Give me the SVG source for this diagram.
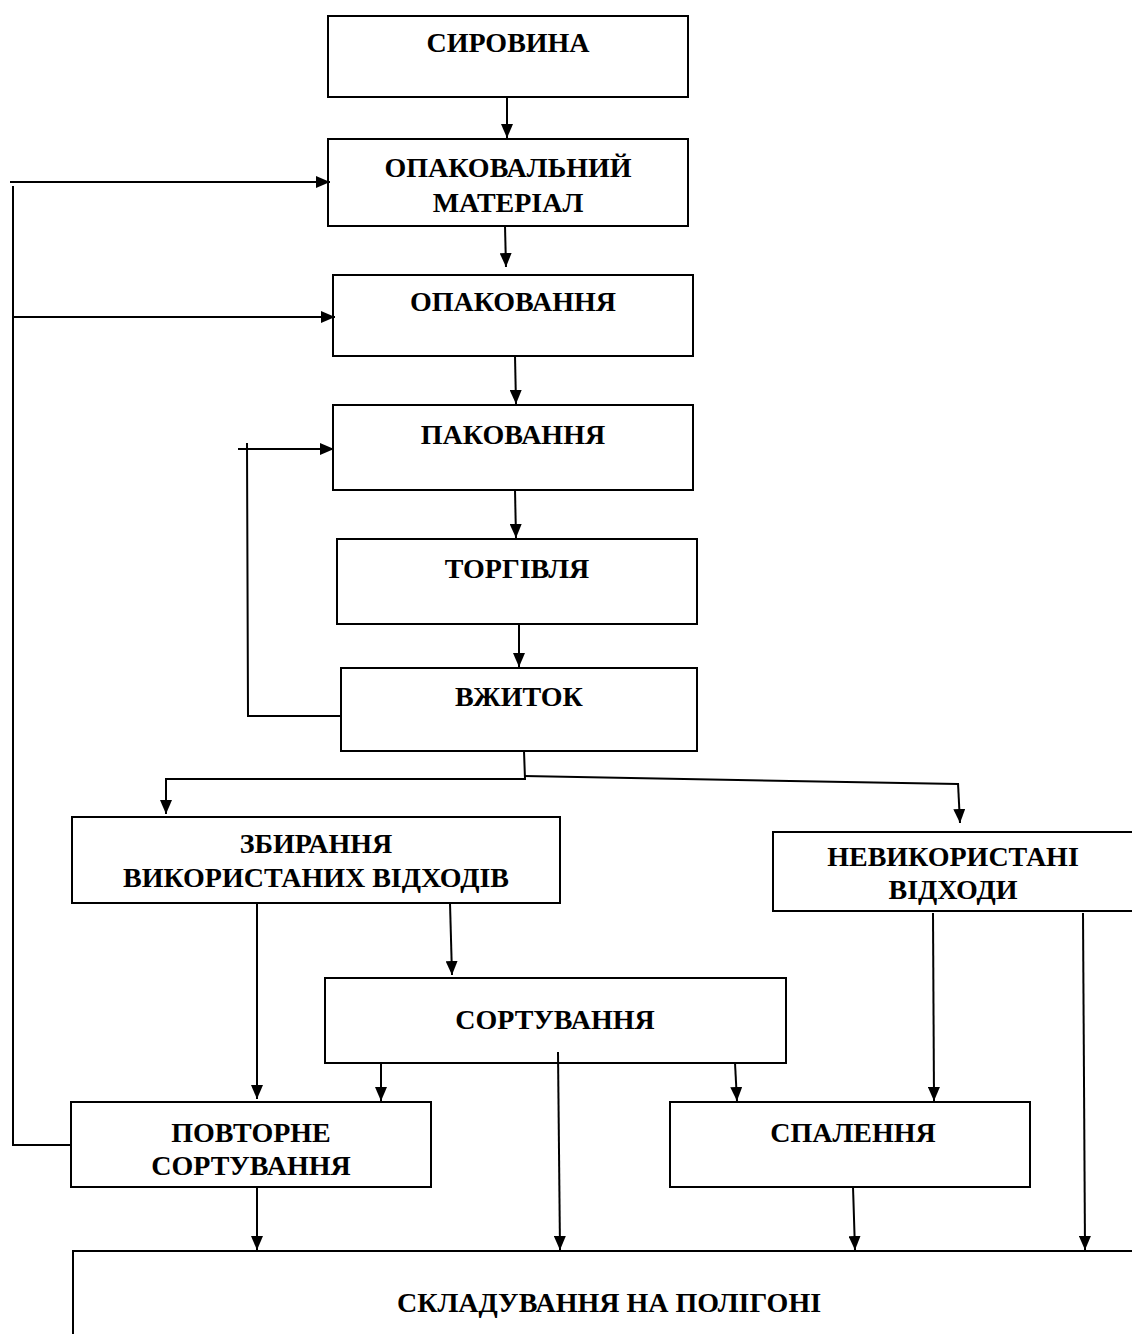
<svg xmlns="http://www.w3.org/2000/svg" width="1132" height="1334" viewBox="0 0 1132 1334">
<style>
.box{fill:#fff;stroke:#000;stroke-width:2}
.t{font-family:"Liberation Serif","Times New Roman",serif;font-weight:bold;font-size:28px;fill:#000;text-anchor:middle}
.c{fill:none;stroke:#000;stroke-width:2}
</style>
<defs>
<marker id="ah" viewBox="0 0 14 12" refX="14" refY="6" markerWidth="14" markerHeight="12" markerUnits="userSpaceOnUse" orient="auto">
<path d="M0,0 L14,6 L0,12 Z" fill="#000"/>
</marker>
</defs>
<rect width="1132" height="1334" fill="#fff"/>
<g id="n1"><rect class="box" x="328" y="16" width="360" height="81"/><text class="t" x="508" y="52">СИРОВИНА</text></g>
<g id="n2"><rect class="box" x="328" y="139" width="360" height="87"/><text class="t" x="508" y="177">ОПАКОВАЛЬНИЙ</text><text class="t" x="508" y="212">МАТЕРІАЛ</text></g>
<g id="n3"><rect class="box" x="333" y="275" width="360" height="81"/><text class="t" x="513" y="311">ОПАКОВАННЯ</text></g>
<g id="n4"><rect class="box" x="333" y="405" width="360" height="85"/><text class="t" x="513" y="444">ПАКОВАННЯ</text></g>
<g id="n5"><rect class="box" x="337" y="539" width="360" height="85"/><text class="t" x="517" y="578">ТОРГІВЛЯ</text></g>
<g id="n6"><rect class="box" x="341" y="668" width="356" height="83"/><text class="t" x="519" y="706">ВЖИТОК</text></g>
<g id="n7"><rect class="box" x="72" y="817" width="488" height="86"/><text class="t" x="316" y="853">ЗБИРАННЯ</text><text class="t" x="316" y="887">ВИКОРИСТАНИХ ВІДХОДІВ</text></g>
<g id="n8"><rect class="box" x="773" y="832" width="362" height="79"/><text class="t" x="953" y="866">НЕВИКОРИСТАНІ</text><text class="t" x="953" y="899">ВІДХОДИ</text></g>
<g id="n9"><rect class="box" x="325" y="978" width="461" height="85"/><text class="t" x="555" y="1029">СОРТУВАННЯ</text></g>
<g id="n10"><rect class="box" x="71" y="1102" width="360" height="85"/><text class="t" x="251" y="1142">ПОВТОРНЕ</text><text class="t" x="251" y="1175">СОРТУВАННЯ</text></g>
<g id="n11"><rect class="box" x="670" y="1102" width="360" height="85"/><text class="t" x="853" y="1142">СПАЛЕННЯ</text></g>
<g id="n12"><rect class="box" x="73" y="1251" width="1080" height="120"/><text class="t" x="609" y="1312">СКЛАДУВАННЯ НА ПОЛІГОНІ</text></g>
<g id="connectors">
<line class="c" x1="507" y1="97" x2="507" y2="138" marker-end="url(#ah)"/>
<line class="c" x1="505" y1="226" x2="506" y2="267" marker-end="url(#ah)"/>
<line class="c" x1="515" y1="356" x2="516" y2="404" marker-end="url(#ah)"/>
<line class="c" x1="515" y1="490" x2="516" y2="538" marker-end="url(#ah)"/>
<line class="c" x1="519" y1="624" x2="519" y2="667" marker-end="url(#ah)"/>
<line class="c" x1="10" y1="182" x2="330" y2="182" marker-end="url(#ah)"/>
<polyline class="c" points="13,186 13,1145 71,1145"/>
<line class="c" x1="13" y1="317" x2="335" y2="317" marker-end="url(#ah)"/>
<line class="c" x1="238" y1="449" x2="334" y2="449" marker-end="url(#ah)"/>
<polyline class="c" points="247,443 248,716 341,716"/>
<polyline class="c" points="524,751 525,779 166,779"/>
<line class="c" x1="166" y1="778" x2="166" y2="814" marker-end="url(#ah)"/>
<polyline class="c" points="524,776 958,784"/>
<line class="c" x1="958" y1="783" x2="960" y2="823" marker-end="url(#ah)"/>
<line class="c" x1="257" y1="903" x2="257" y2="1099" marker-end="url(#ah)"/>
<line class="c" x1="450" y1="903" x2="452" y2="975" marker-end="url(#ah)"/>
<line class="c" x1="381" y1="1063" x2="381" y2="1101" marker-end="url(#ah)"/>
<line class="c" x1="558" y1="1052" x2="560" y2="1250" marker-end="url(#ah)"/>
<line class="c" x1="735" y1="1063" x2="737" y2="1101" marker-end="url(#ah)"/>
<line class="c" x1="933" y1="913" x2="934" y2="1101" marker-end="url(#ah)"/>
<line class="c" x1="1083" y1="913" x2="1085" y2="1250" marker-end="url(#ah)"/>
<line class="c" x1="257" y1="1187" x2="257" y2="1250" marker-end="url(#ah)"/>
<line class="c" x1="853" y1="1187" x2="855" y2="1250" marker-end="url(#ah)"/>
</g>
</svg>
